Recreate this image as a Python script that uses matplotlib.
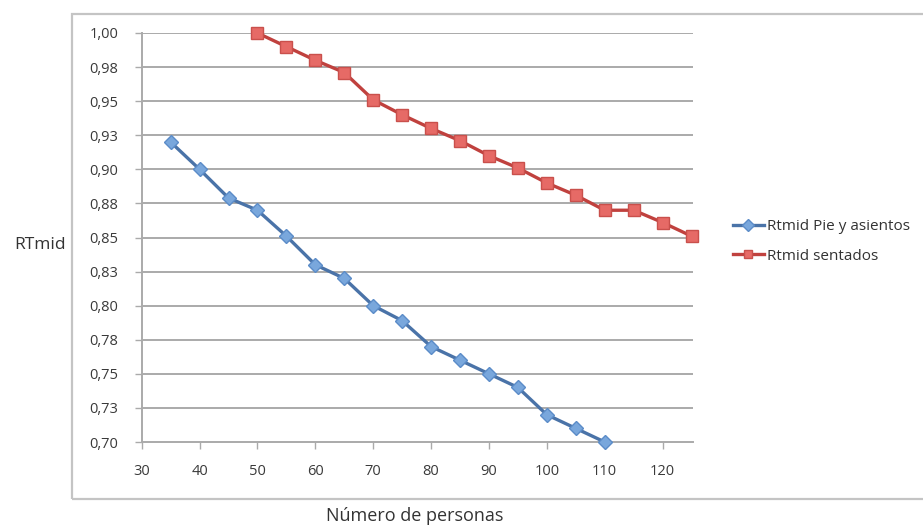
import matplotlib
matplotlib.use("Agg")
import matplotlib.pyplot as plt
from matplotlib.patches import Rectangle

plt.rcParams['font.family'] = ['Open Sans', 'DejaVu Sans']

# Data
x_pie = [35, 40, 45, 50, 55, 60, 65, 70, 75, 80, 85, 90, 95, 100, 105, 110]
rt_pie = [0.92, 0.90, 0.879, 0.87, 0.851, 0.83, 0.82, 0.80, 0.789, 0.77,
          0.76, 0.75, 0.74, 0.72, 0.71, 0.70]

x_sentados = [50, 55, 60, 65, 70, 75, 80, 85, 90, 95, 100, 105, 110, 115, 120, 125]
rt_sentados = [1.00, 0.99, 0.98, 0.971, 0.951, 0.94, 0.93, 0.921, 0.91, 0.901,
               0.89, 0.881, 0.87, 0.87, 0.861, 0.851]

y_ticks = [0.700, 0.725, 0.750, 0.775, 0.800, 0.825, 0.850, 0.875, 0.900,
           0.925, 0.950, 0.975, 1.000]
y_tick_labels = ['0,70', '0,73', '0,75', '0,78', '0,80', '0,83', '0,85',
                 '0,88', '0,90', '0,93', '0,95', '0,98', '1,00']
x_ticks = [30, 40, 50, 60, 70, 80, 90, 100, 110, 120]

series_names = ['Rtmid Pie y asientos', 'Rtmid sentados']

fig = plt.figure(figsize=(9.23, 5.26), dpi=100)
fig.patch.set_facecolor('white')

# Outer chart frame
fig.patches.append(Rectangle((72 / 923, 1 - 499 / 526), 1.0, (499 - 14) / 526,
                             transform=fig.transFigure, fill=False,
                             edgecolor='#c4c4c4', linewidth=1.6, zorder=0))

ax = fig.add_axes([141.7 / 923, 1 - 442 / 526, (692.7 - 141.7) / 923, (442 - 33) / 526])

grid_c = '#aaaaaa'
for yv in y_ticks[1:]:
    ax.axhline(yv, color=grid_c, linewidth=1.4, zorder=1)

ax.plot(x_pie, rt_pie, color='#4a73a8', linewidth=2.4, marker='D',
        markersize=7.5, markerfacecolor='#79a7dc', markeredgecolor='#5b8cc8',
        markeredgewidth=1.0, label=series_names[0], zorder=3, clip_on=False)
ax.plot(x_sentados, rt_sentados, color='#c0413e', linewidth=2.4, marker='s',
        markersize=8, markerfacecolor='#e66a66', markeredgecolor='#c9504c',
        markeredgewidth=1.0, label=series_names[1], zorder=3, clip_on=False)

ax.set_xlim(30, 125.2)
ax.set_ylim(0.70, 1.00)
ax.set_xticks(x_ticks)
ax.set_yticks(y_ticks)
ax.set_yticklabels(y_tick_labels)

for s in ['top', 'right']:
    ax.spines[s].set_visible(False)
for s in ['left', 'bottom']:
    ax.spines[s].set_color(grid_c)
    ax.spines[s].set_linewidth(1.4)

ax.tick_params(axis='both', direction='out', length=5, width=1.0,
               color=grid_c, labelsize=10.5, labelcolor='#3a3a3a')
ax.tick_params(axis='y', pad=12)
ax.tick_params(axis='x', pad=11)

fig.text(40 / 923, 1 - 245 / 526, 'RTmid', fontsize=12.5, color='#333333',
         ha='center', va='center')
fig.text(415 / 923, 1 - 516 / 526, 'Número de personas', fontsize=13,
         color='#333333', ha='center', va='center')

leg = fig.legend(loc='upper left', bbox_to_anchor=(727 / 923, 1 - 213 / 526),
                 frameon=False, fontsize=11, handlelength=2.0, handletextpad=0.2,
                 labelspacing=0.95, markerscale=0.75, borderaxespad=0)
for t in leg.get_texts():
    t.set_color('#333333')

fig.savefig('out.png', dpi=100, facecolor='white')
